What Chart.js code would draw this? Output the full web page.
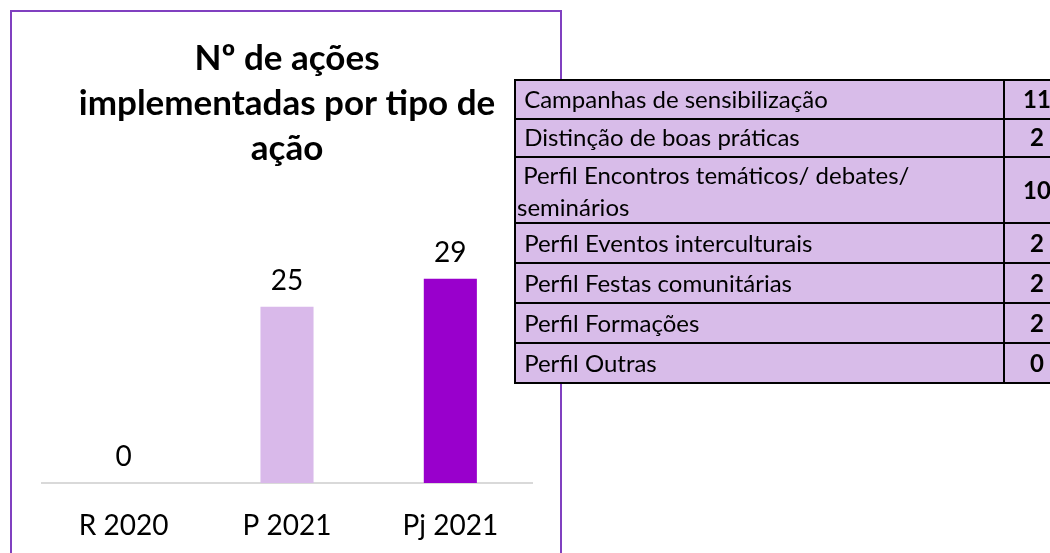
<!DOCTYPE html>
<html>
<head>
<meta charset="utf-8">
<script src="https://cdn.jsdelivr.net/npm/chart.js@4.4.1/dist/chart.umd.min.js"></script>
<style>
html,body{margin:0;padding:0;background:#fff;}
#wrap{position:relative;width:1050px;height:553px;}
</style>
</head>
<body>
<div id="wrap"><canvas id="c" width="1050" height="553"></canvas></div>
<script>
// ---- data ----
const categories = ['R 2020', 'P 2021', 'Pj 2021'];
const values = [0, 25, 29];
const barColors = ['#D9B9EA', '#D9B9EA', '#9900CC'];
const titleLines = ['Nº de ações', 'implementadas por tipo de', 'ação'];
const tableLabels = [
  'Campanhas de sensibilização',
  'Distinção de boas práticas',
  'Perfil Encontros temáticos/ debates/ seminários',
  'Perfil Eventos interculturais',
  'Perfil Festas comunitárias',
  'Perfil Formações',
  'Perfil Outras'
];
const tableValues = [11, 2, 10, 2, 2, 2, 0];

const FONT = 'Lato, "Open Sans", sans-serif';

const framePlugin = {
  id: 'frame',
  beforeDraw(chart) {
    const ctx = chart.ctx;
    ctx.save();
    ctx.strokeStyle = '#8040C0';
    ctx.lineWidth = 2;
    ctx.strokeRect(11, 11, 550, 600);
    ctx.restore();
  }
};

const valueLabels = {
  id: 'valueLabels',
  afterDatasetsDraw(chart) {
    const ctx = chart.ctx;
    const meta = chart.getDatasetMeta(0);
    ctx.save();
    ctx.font = '28px ' + FONT;
    ctx.fillStyle = '#000';
    ctx.textAlign = 'center';
    ctx.textBaseline = 'middle';
    meta.data.forEach((bar, i) => {
      ctx.fillText(String(values[i]), bar.x, bar.y - 26);
    });
    ctx.restore();
  }
};

const tablePlugin = {
  id: 'table',
  afterDraw(chart) {
    const ctx = chart.ctx;
    const x0 = 515, x1 = 1004, x2 = 1070, top = 80;
    ctx.save();
    ctx.font = '24px ' + FONT;
    const maxW = 470;
    const rows = tableLabels.map(lbl => {
      const words = (' ' + lbl).split(' ');
      const lines = [];
      let cur = '';
      words.forEach((w, idx) => {
        const test = idx === 0 ? w : (cur + ' ' + w);
        if (ctx.measureText(test).width > maxW && cur.trim() !== '') {
          lines.push(cur);
          cur = w;
        } else {
          cur = test;
        }
      });
      lines.push(cur);
      return lines;
    });
    const heights = rows.map((l, i) => l.length === 1 ? (i < 2 ? 38.5 : 40) : 66);
    const total = heights.reduce((a, b) => a + b, 0);
    ctx.fillStyle = '#D8BCE9';
    ctx.fillRect(x0, top, x2 - x0, total);
    let y = top;
    rows.forEach((lines, i) => {
      const h = heights[i];
      ctx.fillStyle = '#000';
      ctx.textBaseline = 'middle';
      ctx.textAlign = 'left';
      ctx.font = '24px ' + FONT;
      if (lines.length === 1) {
        ctx.fillText(lines[0], x0 + 3, y + h / 2 + 1);
      } else {
        lines.forEach((ln, k) => {
          ctx.fillText(ln, x0 + 2, y + h / 2 - 14 + k * 32);
        });
      }
      ctx.font = 'bold 24px ' + FONT;
      ctx.textAlign = 'center';
      ctx.fillText(String(tableValues[i]), 1037, y + h / 2 + 1);
      y += h;
    });
    ctx.strokeStyle = '#000';
    ctx.lineWidth = 2;
    ctx.strokeRect(x0, top, x2 - x0, total);
    ctx.beginPath();
    ctx.moveTo(x1, top); ctx.lineTo(x1, top + total);
    let yy = top;
    heights.forEach((h, i) => {
      if (i > 0) { ctx.moveTo(x0, Math.round(yy)); ctx.lineTo(x2, Math.round(yy)); }
      yy += h;
    });
    ctx.stroke();
    ctx.restore();
  }
};

new Chart(document.getElementById('c'), {
  type: 'bar',
  data: {
    labels: categories,
    datasets: [{
      data: values,
      backgroundColor: barColors,
      borderWidth: 0,
      categoryPercentage: 1,
      barPercentage: 0.325
    }]
  },
  options: {
    responsive: false,
    animation: false,
    devicePixelRatio: 1,
    layout: { padding: { left: 42, right: 518, top: 0, bottom: 0 } },
    plugins: {
      legend: { display: false },
      tooltip: { enabled: false },
      title: {
        display: true,
        text: titleLines,
        color: '#000',
        font: { family: FONT, size: 35, weight: 'bold', lineHeight: 1.286 },
        padding: { top: 36, bottom: 16 }
      }
    },
    scales: {
      y: { display: false, min: 0, max: 42 },
      x: {
        afterFit: (scale) => { scale.height = 70; },
        grid: { display: false, drawTicks: false },
        border: { display: true, color: '#D9D9D9', width: 2 },
        ticks: { color: '#000', font: { family: FONT, size: 28 }, padding: 26 }
      }
    }
  },
  plugins: [framePlugin, valueLabels, tablePlugin]
});
</script>
</body>
</html>
